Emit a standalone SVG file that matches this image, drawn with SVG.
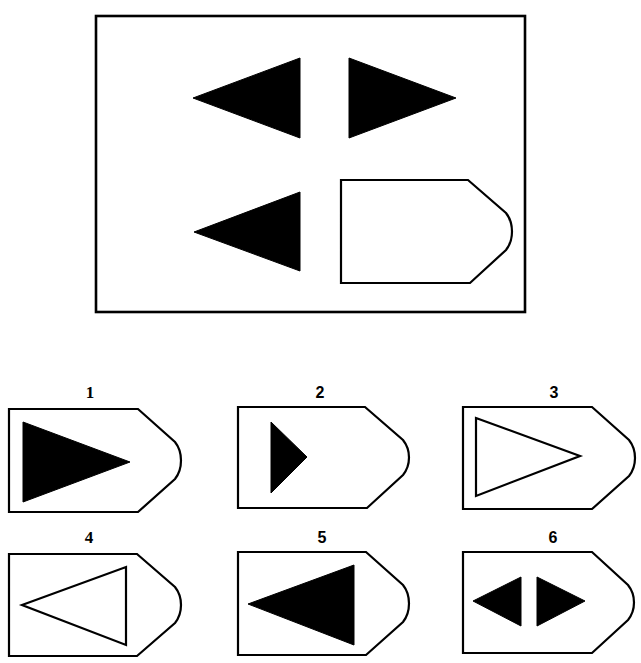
<svg xmlns="http://www.w3.org/2000/svg" width="641" height="663" viewBox="0 0 641 663">
<style>
.frame{fill:none;stroke:#000;stroke-width:2.6}
.box{fill:#fff;stroke:#000;stroke-width:2.2;stroke-linejoin:miter}
.solid{fill:#000;stroke:#000;stroke-width:1}
.hollow{fill:none;stroke:#000;stroke-width:2.2;stroke-linejoin:miter}
.lbl{font-family:"Liberation Sans",Arial,sans-serif;font-weight:bold;font-size:16px;text-anchor:middle;fill:#000}
.lbls{font-family:"Liberation Serif","Times New Roman",serif;font-weight:bold;font-size:17px;text-anchor:middle;fill:#000}
</style>
<rect width="641" height="663" fill="#fff"/>
<g id="question">
  <rect class="frame" x="96" y="16" width="429" height="296"/>
  <polygon class="solid" points="193,98 300,58 300,138"/>
  <polygon class="solid" points="349,58 456,98 349,138"/>
  <polygon class="solid" points="194,232 300,192 300,271"/>
  <path class="box" d="M341,180 H468 L506,213 C514,223 514,240 506,250 L470,283 H341 Z"/>
</g>
<g id="option1">
  <text class="lbls" x="90" y="398">1</text>
  <path class="box" d="M9,409 H138 L175,442 C183,452 183,469 175,479 L138,512 H9 Z"/>
  <polygon class="solid" points="23,422 130,462 23,502"/>
</g>
<g id="option2">
  <text class="lbl" x="320" y="398">2</text>
  <path class="box" d="M238,407 H365 L403,440 C411,450 411,465 403,475 L367,508 H238 Z"/>
  <polygon class="solid" points="271,422 307,457 271,493"/>
</g>
<g id="option3">
  <text class="lbl" x="554" y="398">3</text>
  <path class="box" d="M463,407 H592 L629,440 C637,450 637,466 629,476 L592,509 H463 Z"/>
  <polygon class="hollow" points="476,418 580,456 476,496"/>
</g>
<g id="option4">
  <text class="lbls" x="89" y="543">4</text>
  <path class="box" d="M9,554 H137 L175,587 C183,597 183,613 175,623 L137,656 H9 Z"/>
  <polygon class="hollow" points="22,605 126,567 126,645"/>
</g>
<g id="option5">
  <text class="lbl" x="322" y="543">5</text>
  <path class="box" d="M238,552 H366 L403,585 C411,595 411,612 403,622 L366,655 H238 Z"/>
  <polygon class="solid" points="248,604 354,565 354,645"/>
</g>
<g id="option6">
  <text class="lbl" x="553" y="543">6</text>
  <path class="box" d="M463,552 H592 L628,585 C636,595 636,610 628,620 L592,653 H463 Z"/>
  <polygon class="solid" points="473,601 521,577 521,626"/>
  <polygon class="solid" points="537,577 585,601 537,626"/>
</g>
<g id="connectors"></g>
</svg>
